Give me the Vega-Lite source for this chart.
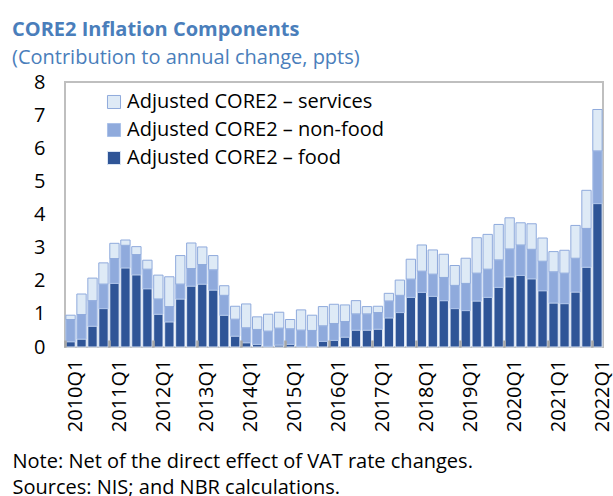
{
  "$schema": "https://vega.github.io/schema/vega-lite/v6.json",
  "width": 538,
  "height": 265,
  "autosize": {"type": "none"},
  "padding": {"left": 65, "top": 82, "right": 10, "bottom": 149},
  "background": "white",
  "config": {
    "font": "Open Sans",
    "view": {"stroke": "#bfbfbf", "strokeWidth": 2}
  },
  "title": {
    "text": "CORE2 Inflation Components",
    "subtitle": "(Contribution to annual change, ppts)",
    "anchor": "start",
    "frame": "group",
    "dx": -53,
    "offset": 4,
    "fontSize": 20,
    "fontWeight": "bold",
    "color": "#4a7ebb",
    "subtitleFontSize": 20,
    "subtitleColor": "#4a7ebb",
    "subtitlePadding": 8
  },
  "data": {
    "values": [
      {"q":"2010Q1","Adjusted CORE2 – food":0.16,"Adjusted CORE2 – non-food":0.67,"Adjusted CORE2 – services":0.13},
      {"q":"2010Q2","Adjusted CORE2 – food":0.24,"Adjusted CORE2 – non-food":0.74,"Adjusted CORE2 – services":0.62},
      {"q":"2010Q3","Adjusted CORE2 – food":0.63,"Adjusted CORE2 – non-food":0.77,"Adjusted CORE2 – services":0.68},
      {"q":"2010Q4","Adjusted CORE2 – food":1.16,"Adjusted CORE2 – non-food":0.74,"Adjusted CORE2 – services":0.64},
      {"q":"2011Q1","Adjusted CORE2 – food":1.92,"Adjusted CORE2 – non-food":0.75,"Adjusted CORE2 – services":0.46},
      {"q":"2011Q2","Adjusted CORE2 – food":2.39,"Adjusted CORE2 – non-food":0.68,"Adjusted CORE2 – services":0.16},
      {"q":"2011Q3","Adjusted CORE2 – food":2.18,"Adjusted CORE2 – non-food":0.61,"Adjusted CORE2 – services":0.24},
      {"q":"2011Q4","Adjusted CORE2 – food":1.76,"Adjusted CORE2 – non-food":0.59,"Adjusted CORE2 – services":0.27},
      {"q":"2012Q1","Adjusted CORE2 – food":0.99,"Adjusted CORE2 – non-food":0.46,"Adjusted CORE2 – services":0.72},
      {"q":"2012Q2","Adjusted CORE2 – food":0.76,"Adjusted CORE2 – non-food":0.46,"Adjusted CORE2 – services":0.90},
      {"q":"2012Q3","Adjusted CORE2 – food":1.45,"Adjusted CORE2 – non-food":0.45,"Adjusted CORE2 – services":0.86},
      {"q":"2012Q4","Adjusted CORE2 – food":1.84,"Adjusted CORE2 – non-food":0.53,"Adjusted CORE2 – services":0.77},
      {"q":"2013Q1","Adjusted CORE2 – food":1.90,"Adjusted CORE2 – non-food":0.59,"Adjusted CORE2 – services":0.53},
      {"q":"2013Q2","Adjusted CORE2 – food":1.72,"Adjusted CORE2 – non-food":0.61,"Adjusted CORE2 – services":0.43},
      {"q":"2013Q3","Adjusted CORE2 – food":0.96,"Adjusted CORE2 – non-food":0.60,"Adjusted CORE2 – services":0.29},
      {"q":"2013Q4","Adjusted CORE2 – food":0.33,"Adjusted CORE2 – non-food":0.51,"Adjusted CORE2 – services":0.39},
      {"q":"2014Q1","Adjusted CORE2 – food":0.13,"Adjusted CORE2 – non-food":0.45,"Adjusted CORE2 – services":0.72},
      {"q":"2014Q2","Adjusted CORE2 – food":0.08,"Adjusted CORE2 – non-food":0.45,"Adjusted CORE2 – services":0.38},
      {"q":"2014Q3","Adjusted CORE2 – food":0.02,"Adjusted CORE2 – non-food":0.46,"Adjusted CORE2 – services":0.51},
      {"q":"2014Q4","Adjusted CORE2 – food":0.06,"Adjusted CORE2 – non-food":0.51,"Adjusted CORE2 – services":0.48},
      {"q":"2015Q1","Adjusted CORE2 – food":0.08,"Adjusted CORE2 – non-food":0.47,"Adjusted CORE2 – services":0.28},
      {"q":"2015Q2","Adjusted CORE2 – food":0.02,"Adjusted CORE2 – non-food":0.49,"Adjusted CORE2 – services":0.61},
      {"q":"2015Q3","Adjusted CORE2 – food":0.01,"Adjusted CORE2 – non-food":0.49,"Adjusted CORE2 – services":0.46},
      {"q":"2015Q4","Adjusted CORE2 – food":0.17,"Adjusted CORE2 – non-food":0.47,"Adjusted CORE2 – services":0.58},
      {"q":"2016Q1","Adjusted CORE2 – food":0.20,"Adjusted CORE2 – non-food":0.51,"Adjusted CORE2 – services":0.58},
      {"q":"2016Q2","Adjusted CORE2 – food":0.30,"Adjusted CORE2 – non-food":0.47,"Adjusted CORE2 – services":0.50},
      {"q":"2016Q3","Adjusted CORE2 – food":0.51,"Adjusted CORE2 – non-food":0.49,"Adjusted CORE2 – services":0.40},
      {"q":"2016Q4","Adjusted CORE2 – food":0.51,"Adjusted CORE2 – non-food":0.49,"Adjusted CORE2 – services":0.22},
      {"q":"2017Q1","Adjusted CORE2 – food":0.54,"Adjusted CORE2 – non-food":0.50,"Adjusted CORE2 – services":0.19},
      {"q":"2017Q2","Adjusted CORE2 – food":0.88,"Adjusted CORE2 – non-food":0.51,"Adjusted CORE2 – services":0.23},
      {"q":"2017Q3","Adjusted CORE2 – food":1.04,"Adjusted CORE2 – non-food":0.52,"Adjusted CORE2 – services":0.46},
      {"q":"2017Q4","Adjusted CORE2 – food":1.50,"Adjusted CORE2 – non-food":0.55,"Adjusted CORE2 – services":0.60},
      {"q":"2018Q1","Adjusted CORE2 – food":1.65,"Adjusted CORE2 – non-food":0.64,"Adjusted CORE2 – services":0.79},
      {"q":"2018Q2","Adjusted CORE2 – food":1.53,"Adjusted CORE2 – non-food":0.67,"Adjusted CORE2 – services":0.73},
      {"q":"2018Q3","Adjusted CORE2 – food":1.40,"Adjusted CORE2 – non-food":0.70,"Adjusted CORE2 – services":0.70},
      {"q":"2018Q4","Adjusted CORE2 – food":1.16,"Adjusted CORE2 – non-food":0.70,"Adjusted CORE2 – services":0.60},
      {"q":"2019Q1","Adjusted CORE2 – food":1.10,"Adjusted CORE2 – non-food":0.82,"Adjusted CORE2 – services":0.76},
      {"q":"2019Q2","Adjusted CORE2 – food":1.39,"Adjusted CORE2 – non-food":0.84,"Adjusted CORE2 – services":1.07},
      {"q":"2019Q3","Adjusted CORE2 – food":1.50,"Adjusted CORE2 – non-food":0.85,"Adjusted CORE2 – services":1.05},
      {"q":"2019Q4","Adjusted CORE2 – food":1.80,"Adjusted CORE2 – non-food":0.83,"Adjusted CORE2 – services":1.07},
      {"q":"2020Q1","Adjusted CORE2 – food":2.12,"Adjusted CORE2 – non-food":0.84,"Adjusted CORE2 – services":0.94},
      {"q":"2020Q2","Adjusted CORE2 – food":2.16,"Adjusted CORE2 – non-food":0.92,"Adjusted CORE2 – services":0.67},
      {"q":"2020Q3","Adjusted CORE2 – food":2.06,"Adjusted CORE2 – non-food":0.89,"Adjusted CORE2 – services":0.77},
      {"q":"2020Q4","Adjusted CORE2 – food":1.70,"Adjusted CORE2 – non-food":0.89,"Adjusted CORE2 – services":0.70},
      {"q":"2021Q1","Adjusted CORE2 – food":1.33,"Adjusted CORE2 – non-food":0.94,"Adjusted CORE2 – services":0.61},
      {"q":"2021Q2","Adjusted CORE2 – food":1.31,"Adjusted CORE2 – non-food":0.92,"Adjusted CORE2 – services":0.69},
      {"q":"2021Q3","Adjusted CORE2 – food":1.66,"Adjusted CORE2 – non-food":1.02,"Adjusted CORE2 – services":0.99},
      {"q":"2021Q4","Adjusted CORE2 – food":2.41,"Adjusted CORE2 – non-food":1.17,"Adjusted CORE2 – services":1.15},
      {"q":"2022Q1","Adjusted CORE2 – food":4.33,"Adjusted CORE2 – non-food":1.59,"Adjusted CORE2 – services":1.25}
    ]
  },
  "transform": [
    {"fold": ["Adjusted CORE2 – food", "Adjusted CORE2 – non-food", "Adjusted CORE2 – services"], "as": ["series", "value"]}
  ],
  "mark": {"type": "bar", "strokeWidth": 1},
  "encoding": {
    "x": {
      "field": "q",
      "type": "nominal",
      "sort": null,
      "scale": {"paddingInner": 0.15, "paddingOuter": 0.08},
      "axis": {
        "values": ["2010Q1","2011Q1","2012Q1","2013Q1","2014Q1","2015Q1","2016Q1","2017Q1","2018Q1","2019Q1","2020Q1","2021Q1","2022Q1"],
        "labelAngle": -90,
        "labelAlign": "right",
        "labelBaseline": "middle",
        "labelFontSize": 20,
        "labelColor": "#000000",
        "labelPadding": 19,
        "labelOffset": 5.5,
        "bandPosition": 0,
        "zindex": 1,
        "domain": false,
        "ticks": true,
        "tickSize": -7,
        "tickWidth": 2.5,
        "tickOffset": -0.8,
        "tickColor": "#a6a6a6",
        "title": ["Note: Net of the direct effect of VAT rate changes.", "Sources: NIS; and NBR calculations."],
        "titleFontSize": 20,
        "titleFontWeight": "normal",
        "titleColor": "#000000",
        "titleAlign": "left",
        "titleAnchor": "start",
        "titleBaseline": "top",
        "titleLineHeight": 26,
        "titleX": -53,
        "titleY": 104
      }
    },
    "y": {
      "field": "value",
      "type": "quantitative",
      "stack": "zero",
      "scale": {"domain": [0, 8], "nice": false},
      "axis": {
        "values": [0,1,2,3,4,5,6,7,8],
        "grid": false,
        "domain": false,
        "ticks": false,
        "labelFontSize": 20,
        "labelColor": "#000000",
        "labelPadding": 20,
        "title": null
      }
    },
    "color": {
      "field": "series",
      "type": "nominal",
      "scale": {
        "domain": ["Adjusted CORE2 – services", "Adjusted CORE2 – non-food", "Adjusted CORE2 – food"],
        "range": ["#deeaf6", "#8faadc", "#2f5597"]
      },
      "legend": {
        "orient": "none",
        "legendX": 39,
        "legendY": 10,
        "title": null,
        "symbolType": "square",
        "symbolSize": 170,
        "symbolStrokeWidth": 1,
        "labelFontSize": 20,
        "labelLimit": 0,
        "labelColor": "#000000",
        "labelOffset": 3,
        "rowPadding": 8,
        "padding": 0
      }
    },
    "stroke": {
      "field": "series",
      "type": "nominal",
      "scale": {
        "domain": ["Adjusted CORE2 – services", "Adjusted CORE2 – non-food", "Adjusted CORE2 – food"],
        "range": ["#8faadc", "#a9c0e8", "#dbe5f4"]
      },
      "legend": null
    },
    "order": {"field": "series", "sort": "ascending"}
  }
}
